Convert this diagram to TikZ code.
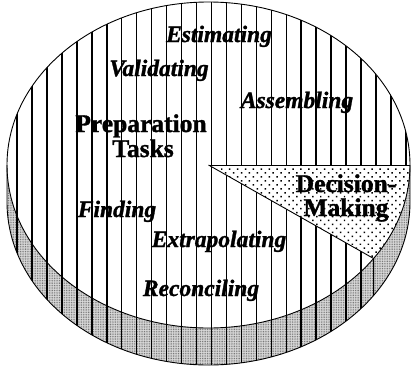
\documentclass[tikz,border=0pt]{standalone}
\usepackage{fontspec}
\setmainfont[BoldFeatures={FakeBold=1.3},BoldItalicFeatures={FakeBold=1.3}]{Liberation Serif}
\usetikzlibrary{patterns.meta}
\tikzset{
  sidefill/.style={fill=black!15, postaction={pattern={Dots[distance=1.7pt,radius=0.5pt]}, pattern color=black!60}},
  decfill/.style={fill=white, postaction={pattern={Dots[distance=5.6pt,angle=45,radius=1.05pt]}, pattern color=black}},
  rim/.style={line width=0.9pt, draw=black},
  stripe/.style={line width=1.5pt, draw=black},
  itlabel/.style={font=\fontsize{23.5}{26}\selectfont\bfseries\itshape, anchor=base, inner sep=0pt},
  bdlabel/.style={font=\fontsize{25.5}{28}\selectfont\bfseries, anchor=base, inner sep=0pt}
}
\begin{document}
\begin{tikzpicture}[x=1pt,y=-1pt]
\useasboundingbox (0,0) rectangle (412,367);
% geometry
\coordinate (C) at (208.5,165);
\coordinate (L) at (7,165);
\coordinate (R) at (410,165);
\coordinate (LB) at (7,202);
\coordinate (RB) at (410,202);
\coordinate (P) at (373.56,258.49);
\coordinate (PB) at (373.56,295.49);
% side of preparation slice
\path[sidefill] (P) arc[start angle=35,end angle=180,x radius=201.5,y radius=163]
  -- (LB) arc[start angle=180,end angle=35,x radius=201.5,y radius=163] -- cycle;
% top face
\path[fill=white] (C) ellipse[x radius=201.5,y radius=163];
% stripes
\begin{scope}
\clip (L) arc[start angle=180,end angle=360,x radius=201.5,y radius=163]
  -- (RB) arc[start angle=0,end angle=180,x radius=201.5,y radius=163] -- cycle;
\foreach \k in {0,...,26} \draw[stripe] ({17+14.96*\k},0) -- ({17+14.96*\k},367);
\end{scope}
% decision-making slice
\path[decfill] (C) -- (R) arc[start angle=0,end angle=35,x radius=201.5,y radius=163] -- cycle;
\path[sidefill] (R) arc[start angle=0,end angle=35,x radius=201.5,y radius=163]
  -- (PB) arc[start angle=35,end angle=0,x radius=201.5,y radius=163] -- cycle;
% outlines
\draw[rim] (C) ellipse[x radius=201.5,y radius=163];
\draw[rim] (L) -- (LB) arc[start angle=180,end angle=0,x radius=201.5,y radius=163] -- (R);
\draw[rim] (C) -- (R);
\draw[rim] (C) -- (P) -- (PB);
% labels
\node[itlabel] (est) at (219,42) {Estimating};
\node[itlabel] (val) at (159,76) {Validating};
\node[itlabel] (ass) at (297,108) {Assembling};
\node[bdlabel] (prep) at (141,132) {Preparation};
\node[bdlabel] (tasks) at (143,157) {Tasks};
\node[itlabel] (fin) at (117,217) {Finding};
\node[itlabel] (ext) at (219,247) {Extrapolating};
\node[itlabel] (rec) at (201,296) {Reconciling};
\node[bdlabel] (dec) at (346,192) {Decision-};
\node[bdlabel] (mak) at (346,216) {Making};
\end{tikzpicture}
\end{document}
